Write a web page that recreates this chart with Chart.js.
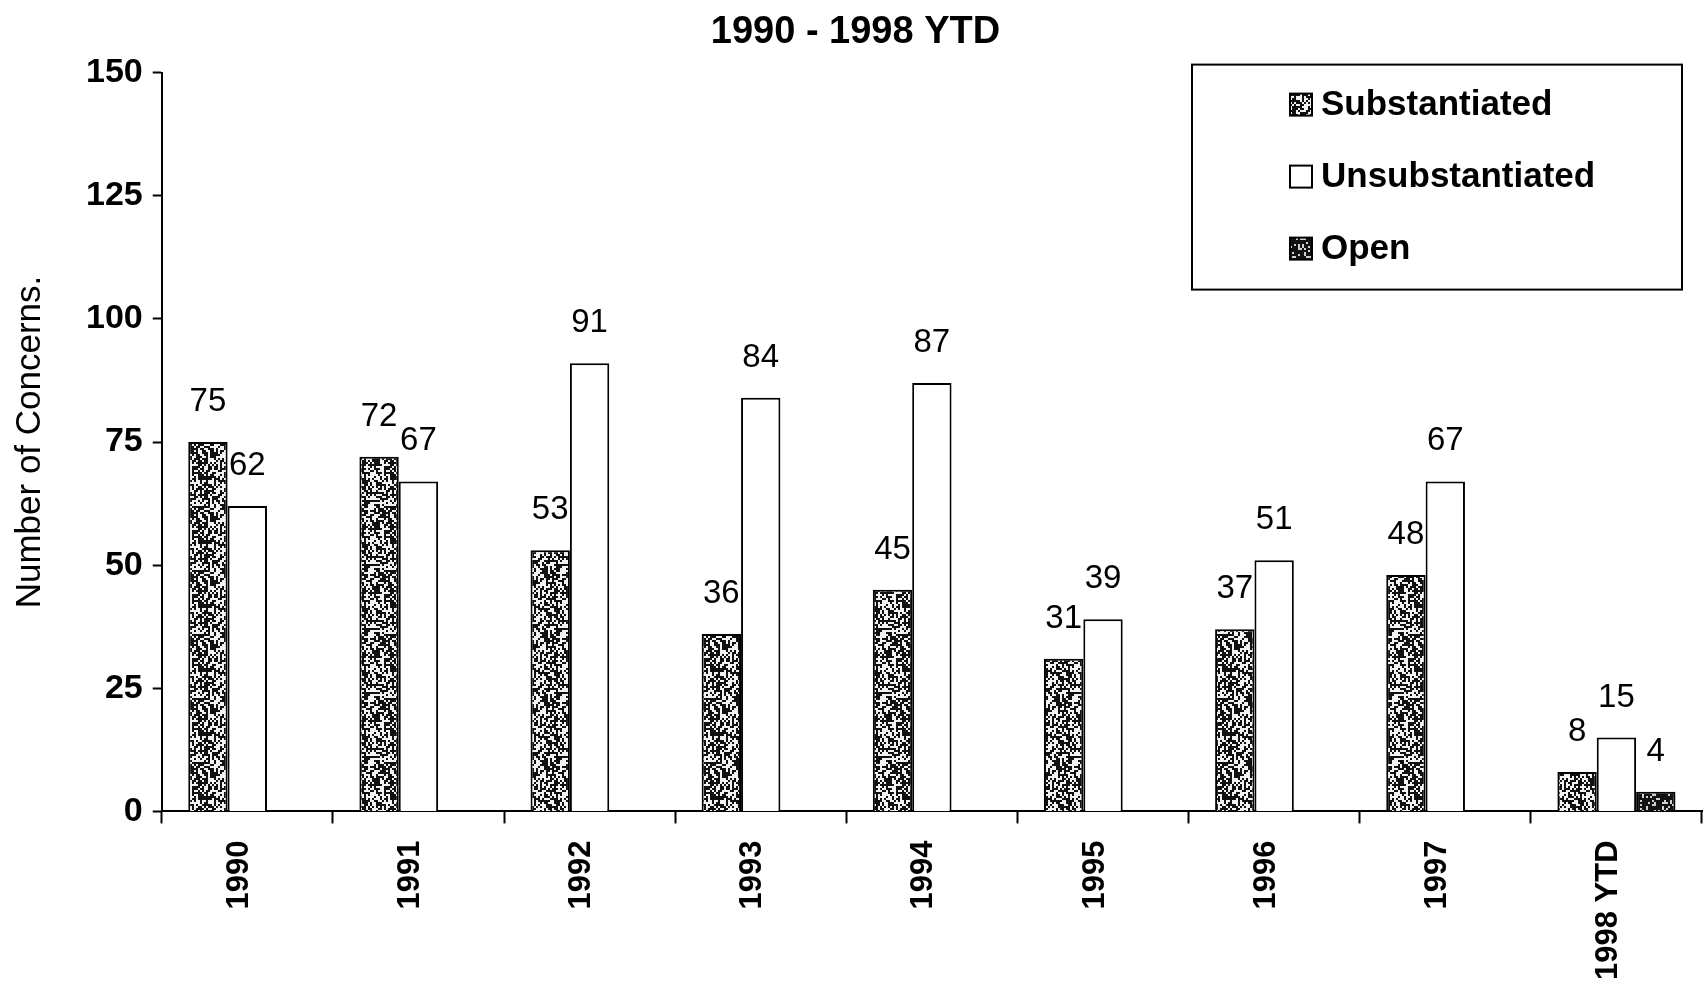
<!DOCTYPE html>
<html>
<head>
<meta charset="utf-8">
<script src="https://cdn.jsdelivr.net/npm/chart.js@4.4.0/dist/chart.umd.min.js"></script>
<style>
  html, body { margin: 0; padding: 0; background: #fff; }
  #wrap { width: 1704px; height: 1002px; }
</style>
</head>
<body>
<div id="wrap"><canvas id="chart"></canvas></div>
<script>
const YEARS = ['1990', '1991', '1992', '1993', '1994', '1995', '1996', '1997', '1998 YTD']
const SUBSTANTIATED = [75, 72, 53, 36, 45, 31, 37, 48, 8]
const UNSUBSTANTIATED = [62, 67, 91, 84, 87, 39, 51, 67, 15]
const OPEN = [0, 0, 0, 0, 0, 0, 0, 0, 4]
const Y_TICKS = [0, 25, 50, 75, 100, 125, 150]

const FONT = "'Liberation Sans', Arial, sans-serif"

function hash (x, y) {
  let h = Math.imul(x, 374761393) + Math.imul(y, 668265263)
  h = Math.imul(h ^ (h >>> 13), 1274126177)
  return ((h ^ (h >>> 16)) >>> 0) / 4294967296
}

// speckled fill like the photocopied original
function stipple (dark, light, density) {
  const n = 64
  const c = document.createElement('canvas')
  c.width = c.height = n
  const g = c.getContext('2d')
  g.fillStyle = light
  g.fillRect(0, 0, n, n)
  g.fillStyle = dark
  for (let y = 0; y < n; y += 2) {
    for (let x = 0; x < n; x += 2) {
      if (hash(x, y) < density) g.fillRect(x, y, 2, 2)
    }
  }
  return g.createPattern(c, 'repeat')
}

const barLabels = {
  id: 'barLabels',
  afterDatasetsDraw (chart) {
    const ctx = chart.ctx
    ctx.save()
    ctx.font = '33px ' + FONT
    ctx.fillStyle = '#000'
    ctx.textAlign = 'center'
    ctx.textBaseline = 'alphabetic'
    chart.data.datasets.forEach((ds, i) => {
      chart.getDatasetMeta(i).data.forEach((bar, j) => {
        const v = ds.data[j]
        if (!v) return
        ctx.fillText(String(v), bar.x, bar.y - 31)
      })
    })
    ctx.restore()
  }
}

const boxLegend = {
  id: 'boxLegend',
  afterDraw (chart) {
    const ctx = chart.ctx
    const area = chart.chartArea
    const w = 490
    const h = 225
    const x0 = area.right - w - 20
    const y0 = area.top - 8
    ctx.save()
    ctx.fillStyle = '#fff'
    ctx.fillRect(x0, y0, w, h)
    ctx.lineWidth = 2
    ctx.strokeStyle = '#000'
    ctx.strokeRect(x0, y0, w, h)
    ctx.font = 'bold 35px ' + FONT
    ctx.textBaseline = 'middle'
    ctx.textAlign = 'left'
    chart.data.datasets.forEach((ds, i) => {
      const cy = y0 + 40 + i * 72
      const mx = x0 + 98
      ctx.fillStyle = ds.backgroundColor
      ctx.fillRect(mx, cy - 11, 22, 22)
      ctx.strokeStyle = '#000'
      ctx.lineWidth = 2
      ctx.strokeRect(mx, cy - 11, 22, 22)
      ctx.fillStyle = '#000'
      ctx.fillText(ds.label, mx + 31, cy + 1)
    })
    ctx.restore()
  }
}

new Chart(document.getElementById('chart'), {
  type: 'bar',
  data: {
    labels: YEARS,
    datasets: [
      {
        label: 'Substantiated',
        data: SUBSTANTIATED,
        backgroundColor: stipple('#111', '#f2f2f2', 0.55),
        borderColor: '#000',
        borderWidth: 2
      },
      {
        label: 'Unsubstantiated',
        data: UNSUBSTANTIATED,
        backgroundColor: '#fff',
        borderColor: '#000',
        borderWidth: 2
      },
      {
        label: 'Open',
        data: OPEN,
        backgroundColor: stipple('#111', '#d0d0d0', 0.78),
        borderColor: '#000',
        borderWidth: 2
      }
    ]
  },
  options: {
    responsive: true,
    maintainAspectRatio: false,
    animation: false,
    categoryPercentage: 0.69,
    barPercentage: 1.0,
    layout: {
      padding: { top: 0, right: 2, left: 9, bottom: 5 }
    },
    plugins: {
      legend: { display: false },
      tooltip: { enabled: false },
      title: {
        display: true,
        text: '1990 - 1998 YTD',
        color: '#000',
        font: { family: FONT, size: 38, weight: 'bold' },
        padding: { top: 10, bottom: 17 }
      }
    },
    scales: {
      x: {
        grid: {
          display: true,
          drawOnChartArea: false,
          drawTicks: true,
          tickLength: 12,
          tickWidth: 2,
          tickColor: '#000',
          offset: true
        },
        border: { display: true, color: '#000', width: 2 },
        ticks: {
          color: '#000',
          font: { family: FONT, size: 31, weight: 'bold' },
          minRotation: 90,
          maxRotation: 90,
          autoSkip: false,
          labelOffset: -8,
          padding: 17
        }
      },
      y: {
        min: 0,
        max: 150,
        afterBuildTicks (scale) {
          scale.ticks = Y_TICKS.map(v => ({ value: v }))
        },
        grid: {
          display: true,
          drawOnChartArea: false,
          drawTicks: true,
          tickLength: 9,
          tickWidth: 2,
          tickColor: '#000'
        },
        border: { display: true, color: '#000', width: 2 },
        ticks: {
          color: '#000',
          font: { family: FONT, size: 34, weight: 'bold' },
          padding: 10
        },
        title: {
          display: true,
          text: 'Number of Concerns.',
          color: '#000',
          font: { family: FONT, size: 35 },
          padding: { top: 0, bottom: 25 }
        }
      }
    }
  },
  plugins: [barLabels, boxLegend]
})
</script>
</body>
</html>
